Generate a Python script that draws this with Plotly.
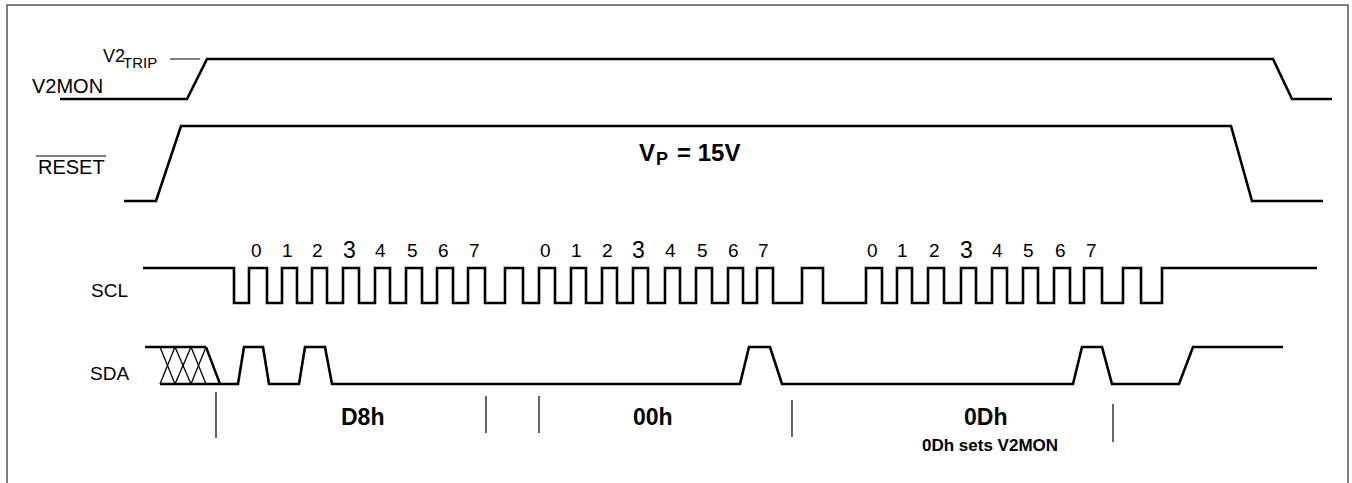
import plotly.graph_objects as go

# ---------------- data (time units along the x axis, logic levels 0/1) ----------------
V2MON_T = [60, 187, 207, 1273, 1292, 1332]
V2MON_L = [0, 0, 1, 1, 0, 0]

RESET_T = [124, 156, 181, 1231, 1252, 1323]
RESET_L = [0, 0, 1, 1, 0, 0]

SCL_START = 143
SCL_FIRST_FALL = 234
SCL_RISE = [249, 282, 312, 343, 375, 406, 437, 468, 505,
            539, 571, 602, 633, 665, 696, 728, 757, 802,
            866, 897, 928, 961, 992, 1023, 1054, 1084, 1123]
SCL_FALL = [267, 297, 327, 359, 390, 422, 453, 485, 523,
            555, 586, 617, 648, 680, 712, 743, 773, 823,
            882, 912, 944, 976, 1007, 1038, 1070, 1102, 1141]
SCL_FINAL_RISE = 1162
SCL_END = 1317

SDA_T = [220, 238, 244, 263, 269, 299, 305, 325, 332, 740, 749, 770, 782,
         1073, 1082, 1102, 1112, 1179, 1193, 1283]
SDA_L = [0, 0, 1, 1, 0, 0, 1, 1, 0, 0, 1, 1, 0,
         0, 1, 1, 0, 0, 1, 1]

HATCH_TOP_START = 145
HATCH_EDGES = [160, 175, 191, 206, 220]

BIT_LABELS = ["0", "1", "2", "3", "4", "5", "6", "7"]
BYTE_NAMES = ["D8h", "00h", "0Dh"]
BYTE_X = [362, 653, 985]
DIVIDER_X = [216, 486, 539, 792, 1113]
DIVIDER_Y0 = [392, 396, 396, 400, 404]
DIVIDER_Y1 = [438, 433, 433, 437, 442]

# ---------------- layout of lanes ----------------
LANES = {
    "V2MON": (99, 59),
    "RESET": (201, 126),
    "SCL": (303, 268),
    "SDA": (384, 347),
}

def lvl(name, levels):
    lo, hi = LANES[name]
    return [hi if v else lo for v in levels]

W, H = 1352, 483
BLACK = "#000000"
FONT = "Liberation Sans, Arial, sans-serif"

fig = go.Figure()

def line(x, y, width=2.6, color=BLACK):
    fig.add_trace(go.Scatter(x=x, y=y, mode="lines",
                             line=dict(color=color, width=width, shape="linear"),
                             hoverinfo="skip", showlegend=False))

# V2MON and RESET
line(V2MON_T, lvl("V2MON", V2MON_L))
line(RESET_T, lvl("RESET", RESET_L))

# SCL built from edges
scl_x = [SCL_START, SCL_FIRST_FALL, SCL_FIRST_FALL]
scl_l = [1, 1, 0]
for r, f in zip(SCL_RISE, SCL_FALL):
    scl_x += [r, r, f, f]
    scl_l += [0, 1, 1, 0]
scl_x += [SCL_FINAL_RISE, SCL_FINAL_RISE, SCL_END]
scl_l += [0, 1, 1]
line(scl_x, lvl("SCL", scl_l), width=2.6)

# SDA
line(SDA_T, lvl("SDA", SDA_L), width=2.6)

# SDA hatched (don't care) region
lo, hi = LANES["SDA"]
line([HATCH_TOP_START, HATCH_EDGES[-2]], [hi, hi], width=2.4)
line([HATCH_EDGES[0], HATCH_EDGES[-1]], [lo, lo], width=2.4)
for a, b in zip(HATCH_EDGES[:-1], HATCH_EDGES[1:]):
    line([a, b], [hi, lo], width=1.3)
for a, b in zip(HATCH_EDGES[:-2], HATCH_EDGES[1:-1]):
    line([a, b], [lo, hi], width=1.3)
line([HATCH_EDGES[-2], HATCH_EDGES[-1]], [hi, lo], width=2.4)

# byte dividers
for x, y0, y1 in zip(DIVIDER_X, DIVIDER_Y0, DIVIDER_Y1):
    line([x, x], [y0, y1], width=1.2)

# V2TRIP marker line
line([170, 200], [LANES["V2MON"][1], LANES["V2MON"][1]], width=1.0)

ann = []
def text(x, y, s, size, font=FONT, xanchor="center", yanchor="middle"):
    ann.append(dict(x=x, y=y, xref="x", yref="y", text=s, showarrow=False,
                    xanchor=xanchor, yanchor=yanchor,
                    font=dict(family=font, size=size, color=BLACK)))

# signal names
text(30, 86, "V2MON", 20, xanchor="left")
text(101, 56, "V2", 18, xanchor="left")
text(121, 62, "TRIP", 15, xanchor="left")
RESET_LX, RESET_LY = 36, 167
text(RESET_LX, RESET_LY, "RESET", 20, xanchor="left")
text(89, 290, "SCL", 19, xanchor="left")
text(88, 373, "SDA", 19, xanchor="left")

# Vp label (V, subscript P, "= 15V")
text(637, 152, "<b>V</b>", 24, xanchor="left")
text(654, 159, "<b>P</b>", 18, xanchor="left")
text(675, 152, "<b>= 15V</b>", 24, xanchor="left")

# bit numbers above SCL high pulses (8 per byte, ACK unlabeled)
for byte in range(3):
    for i, lab in enumerate(BIT_LABELS):
        k = byte * 9 + i
        cx = (SCL_RISE[k] + SCL_FALL[k]) / 2 - 2
        if lab == "3":
            text(cx, 250, lab, 23)
        else:
            text(cx, 250, lab, 19)

# byte names
for x, s in zip(BYTE_X, BYTE_NAMES):
    text(x, 417, "<b>%s</b>" % s, 23)
text(990, 445, "<b>0Dh sets V2MON</b>", 17)

shapes = [
    # frame
    dict(type="rect", xref="paper", yref="paper",
         x0=7 / W, x1=1348 / W, y0=-0.05, y1=1 - 5 / H,
         line=dict(color="#555555", width=1.5), fillcolor="rgba(0,0,0,0)"),
    # RESET overline
    dict(type="line", xref="x", yref="y",
         x0=RESET_LX, x1=RESET_LX + 70, y0=RESET_LY - 11, y1=RESET_LY - 11,
         line=dict(color=BLACK, width=1.2)),
]

fig.update_layout(
    width=W, height=H,
    margin=dict(l=0, r=0, t=0, b=0),
    paper_bgcolor="white", plot_bgcolor="white",
    xaxis=dict(range=[0, W], visible=False, fixedrange=True),
    yaxis=dict(range=[H, 0], visible=False, fixedrange=True),
    annotations=ann, shapes=shapes, showlegend=False,
)

fig.write_html("out.html", config={"displayModeBar": False},
               post_script="document.body.style.margin='0';document.body.style.overflow='hidden';")
